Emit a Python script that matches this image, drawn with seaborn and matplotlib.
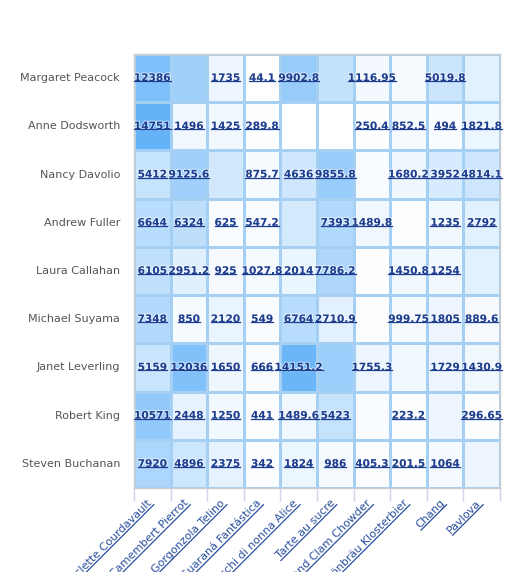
import numpy as np
import pandas as pd
import seaborn as sns
import matplotlib.pyplot as plt
import matplotlib.patheffects as pe
from matplotlib.colors import LinearSegmentedColormap
from matplotlib.lines import Line2D
from matplotlib.transforms import IdentityTransform

employees = ['Margaret Peacock', 'Anne Dodsworth', 'Nancy Davolio', 'Andrew Fuller',
             'Laura Callahan', 'Michael Suyama', 'Janet Leverling', 'Robert King',
             'Steven Buchanan']
products = ['Raclette Courdavault', 'Camembert Pierrot', 'Gorgonzola Telino',
            'Guaraná Fantástica', 'Gnocchi di nonna Alice', 'Tarte au sucre',
            'New England Clam Chowder', 'Rhönbräu Klosterbier', 'Chang', 'Pavlova']

# sales per employee / product (nan = no sales)
sales = [
    [12386, 9000, 1735, 44.1, 9902.8, 5600, 1116.95, 950, 5019.8, 2800],
    [14751, 1496, 1425, 289.8, np.nan, np.nan, 250.4, 852.5, 494, 1821.8],
    [5412, 9125.6, 4300, 875.7, 4636, 9855.8, 600, 1680.2, 3952, 4814.1],
    [6644, 6324, 625, 547.2, 4200, 7393, 1489.8, 300, 1235, 2792],
    [6105, 2951.2, 925, 1027.8, 2014, 7786.2, 150, 1450.8, 1254, 2800],
    [7348, 850, 2120, 549, 6764, 2710.9, 300, 999.75, 1805, 889.6],
    [5159, 12036, 1650, 666, 14151.2, 9500, 1755.3, 1400, 1729, 1430.9],
    [10571, 2448, 1250, 441, 1489.6, 5423, 700, 223.2, 1800, 296.65],
    [7920, 4896, 2375, 342, 1824, 986, 405.3, 201.5, 1064, 1700],
]
# which cells show their data label (hidden ones overlapped in the original)
shown = [
    [1, 0, 1, 1, 1, 0, 1, 0, 1, 0],
    [1, 1, 1, 1, 0, 0, 1, 1, 1, 1],
    [1, 1, 0, 1, 1, 1, 0, 1, 1, 1],
    [1, 1, 1, 1, 0, 1, 1, 0, 1, 1],
    [1, 1, 1, 1, 1, 1, 0, 1, 1, 0],
    [1, 1, 1, 1, 1, 1, 0, 1, 1, 1],
    [1, 1, 1, 1, 1, 0, 1, 0, 1, 1],
    [1, 1, 1, 1, 1, 1, 0, 1, 0, 1],
    [1, 1, 1, 1, 1, 1, 1, 1, 1, 0],
]

df = pd.DataFrame(sales, index=employees, columns=products)
labels = np.array([[(f'{v:g}' if s else '') for v, s in zip(row, srow)]
                   for row, srow in zip(sales, shown)])

label_col = '#1d3d8f'
cmap = LinearSegmentedColormap.from_list('wb', ['#ffffff', '#62b2f8'])

fig = plt.figure(figsize=(5.16, 5.72), dpi=100)
ax = fig.add_axes([134 / 516, 84 / 572, 366 / 516, 434 / 572])
sns.heatmap(df, ax=ax, cmap=cmap, vmin=0, vmax=15000, cbar=False,
            annot=labels, fmt='', linewidths=1.0, linecolor='#a6d0f3',
            annot_kws={'fontsize': 7.6, 'fontweight': 'bold', 'color': label_col})

for t in ax.texts:
    t.set_path_effects([pe.withStroke(linewidth=1.5, foreground='white', alpha=0.6)])

for s in ax.spines.values():
    s.set_visible(True)
    s.set_color('#cccccc')
    s.set_linewidth(1)

ax.set_xlabel('')
ax.set_ylabel('')
ax.tick_params(axis='y', length=0, pad=10, labelsize=8, labelcolor='#555555')
ax.tick_params(axis='x', which='major', length=0, pad=11, labelsize=8,
               labelcolor='#2a4f9e')
ax.set_xticks(np.arange(len(products) + 1), minor=True)
ax.tick_params(axis='x', which='minor', length=9, color='#ccd6eb', width=1)
plt.setp(ax.get_yticklabels(), rotation=0)
plt.setp(ax.get_xticklabels(), rotation=45, ha='right', va='baseline',
         rotation_mode='anchor')

# underline the link-style labels
fig.canvas.draw()
renderer = fig.canvas.get_renderer()
for t in ax.texts:
    if not t.get_text():
        continue
    bb = t.get_window_extent(renderer)
    fig.add_artist(Line2D([bb.x0, bb.x1], [bb.y0 + 2, bb.y0 + 2],
                          transform=IdentityTransform(), color=label_col, lw=0.9))
c = s_ = np.sqrt(0.5)
for lab in ax.get_xticklabels():
    ax0, ay0 = lab.get_transform().transform(lab.get_position())
    w, h, d = renderer.get_text_width_height_descent(
        lab.get_text(), lab.get_fontproperties(), ismath=False)
    off = 2.0
    x1, y1 = ax0 + off * s_, ay0 - off * c
    x0, y0 = x1 - w * c, y1 - w * s_
    fig.add_artist(Line2D([x0, x1], [y0, y1], transform=IdentityTransform(),
                          color='#2a4f9e', lw=0.9))

fig.savefig('out.png', dpi=100)
